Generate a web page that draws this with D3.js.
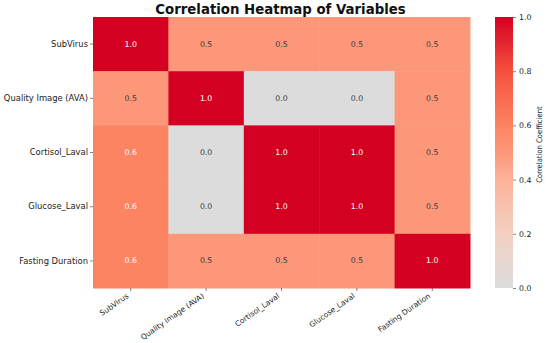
<!DOCTYPE html>
<html><head><meta charset="utf-8">
<script src="https://cdn.jsdelivr.net/npm/d3@7"></script>
<style>body{margin:0;background:#fff;} svg{display:block;font-family:"DejaVu Sans",sans-serif;}</style>
</head><body>
<svg id="c" width="550" height="343"></svg>
<script>
const variables = ["SubVirus", "Quality Image (AVA)", "Cortisol_Laval", "Glucose_Laval", "Fasting Duration"];
const row0 = [1.0, 0.5, 0.5, 0.5, 0.5];
const row1 = [0.5, 1.0, 0.0, 0.0, 0.5];
const row2 = [0.6, 0.0, 1.0, 1.0, 0.5];
const row3 = [0.6, 0.0, 1.0, 1.0, 0.5];
const row4 = [0.6, 0.5, 0.5, 0.5, 1.0];
const matrix = [row0, row1, row2, row3, row4];
const colorbarTicks = [0.0, 0.2, 0.4, 0.6, 0.8, 1.0];
const titleText = "Correlation Heatmap of Variables";
const colorbarLabel = "Correlation Coefficient";

const svg = d3.select("#c");
const m = {left: 93, right: 470, top: 17, bottom: 288};

const x = d3.scaleBand().domain(variables).range([m.left, m.right]).padding(0);
const y = d3.scaleBand().domain(variables).range([m.top, m.bottom]).padding(0);

const color = d3.scaleLinear()
  .domain([0, 0.2, 0.4, 0.5, 0.6, 0.8, 1.0])
  .range(["#dcdcdc", "#f4d0c2", "#fcb39a", "#fc9779", "#fc8462", "#f5503e", "#d30022"])
  .interpolate(d3.interpolateRgb);

const cells = [];
matrix.forEach((r, i) => r.forEach((v, j) => cells.push({row: variables[i], col: variables[j], v})));

svg.append("g").selectAll("rect").data(cells).join("rect")
  .attr("x", d => x(d.col)).attr("y", d => y(d.row))
  .attr("width", x.bandwidth() + 0.5).attr("height", y.bandwidth() + 0.5)
  .attr("fill", d => color(d.v));

svg.append("g").selectAll("text").data(cells).join("text")
  .attr("x", d => x(d.col) + x.bandwidth() / 2)
  .attr("y", d => y(d.row) + y.bandwidth() / 2)
  .attr("text-anchor", "middle").attr("dominant-baseline", "central")
  .attr("font-size", 7.8)
  .attr("fill", d => d.v >= 0.55 ? "#ffffff" : "#3a3a3a")
  .text(d => d3.format(".1f")(d.v));

// y axis
const yAxis = svg.append("g").attr("transform", `translate(${m.left},0)`)
  .call(d3.axisLeft(y).tickSize(3).tickPadding(2));
yAxis.select(".domain").remove();
yAxis.selectAll("text").attr("font-size", 8.4).attr("fill", "#222").attr("font-family", "DejaVu Sans");
yAxis.selectAll("line").attr("stroke", "#333").attr("stroke-width", 0.6);

// x axis
const xAxis = svg.append("g").attr("transform", `translate(0,${m.bottom})`)
  .call(d3.axisBottom(x).tickSize(3).tickPadding(2));
xAxis.select(".domain").remove();
xAxis.selectAll("line").attr("stroke", "#333").attr("stroke-width", 0.6);
xAxis.selectAll("text").attr("font-size", 7.5).attr("fill", "#222").attr("font-family", "DejaVu Sans")
  .attr("text-anchor", "end").attr("x", 0).attr("y", 0).attr("dy", "0.35em")
  .attr("transform", "translate(-3,7) rotate(-35)");

// title
svg.append("text").attr("x", (m.left + m.right) / 2 - 1).attr("y", 14)
  .attr("text-anchor", "middle").attr("font-size", 13.3).attr("font-weight", "bold")
  .attr("fill", "#111").text(titleText);

// colorbar
const cb = {x: 495, w: 18, top: 17, bottom: 288};
const defs = svg.append("defs");
const grad = defs.append("linearGradient").attr("id", "cbg")
  .attr("x1", 0).attr("y1", 1).attr("x2", 0).attr("y2", 0);
d3.range(0, 1.0001, 0.05).forEach(t => grad.append("stop").attr("offset", t).attr("stop-color", color(t)));
svg.append("rect").attr("x", cb.x).attr("y", cb.top).attr("width", cb.w).attr("height", cb.bottom - cb.top)
  .attr("fill", "url(#cbg)");
const cy = d3.scaleLinear().domain([0, 1]).range([cb.bottom, cb.top]);
const cAxis = svg.append("g").attr("transform", `translate(${cb.x + cb.w},0)`)
  .call(d3.axisRight(cy).tickValues(colorbarTicks).tickFormat(d3.format(".1f")).tickSize(3).tickPadding(3));
cAxis.select(".domain").remove();
cAxis.selectAll("line").attr("stroke", "#333").attr("stroke-width", 0.6);
cAxis.selectAll("text").attr("font-size", 7.8).attr("fill", "#222").attr("font-family", "DejaVu Sans");

svg.append("text").attr("transform", `translate(542,${(cb.top + cb.bottom) / 2 - 8}) rotate(-90)`)
  .attr("text-anchor", "middle").attr("font-size", 7.6).attr("fill", "#222")
  .attr("font-family", "DejaVu Sans Condensed, DejaVu Sans")
  .text(colorbarLabel);
</script>
</body></html>
